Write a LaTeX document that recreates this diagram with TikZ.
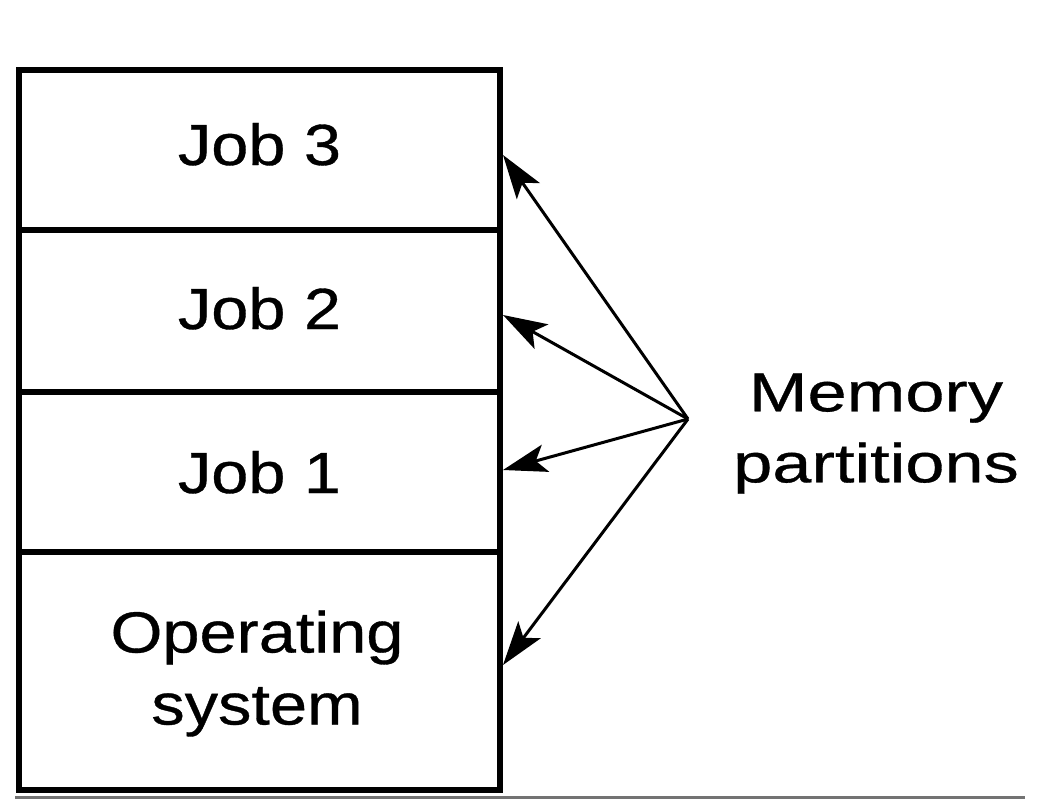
\documentclass[tikz,border=0pt]{standalone}
\usepackage{fontspec}
\setmainfont{Liberation Sans}
\newfontfamily\lblfont[FakeStretch=1.15, FakeBold=0.6]{Liberation Sans}
\newfontfamily\memfont[FakeStretch=1.28, FakeBold=0.6]{Liberation Sans}
\usetikzlibrary{arrows.meta}
\begin{document}
\begin{tikzpicture}[x=1pt,y=-1pt,
  rowbox/.style={draw=black, line width=6pt, minimum width=481pt, inner sep=0pt},
  lbl/.style={font=\lblfont\fontsize{58}{72}\selectfont, inner sep=0pt, align=center},
  memlbl/.style={font=\memfont\fontsize{55}{71}\selectfont, inner sep=0pt, align=center},
  arr/.style={line width=3pt, -{Stealth[length=44pt, width=28pt, inset=10pt]}}
]
\useasboundingbox (0,0) rectangle (1040,806);
% memory rows
\node[rowbox, minimum height=160pt] (j3) at (259.5,150) {};
\node[rowbox, minimum height=162pt] (j2) at (259.5,311) {};
\node[rowbox, minimum height=160pt] (j1) at (259.5,472) {};
\node[rowbox, minimum height=238pt] (os) at (259.5,671) {};
% labels
\node[lbl, anchor=base] (t3) at (259.5,165) {Job 3};
\node[lbl, anchor=base] (t2) at (259.5,329) {Job 2};
\node[lbl, anchor=base] (t1) at (259.5,493) {Job 1};
\node[lbl] (tos) at (257,673.5) {Operating\\system};
\node[memlbl] (mem) at (876,433.6) {Memory\\partitions};
% arrows
\coordinate (src) at (688,419);
\draw[arr] (src) -- ([yshift=-5pt]j3.east);
\draw[arr] (src) -- ([yshift=-4pt]j2.east);
\draw[arr] (src) -- ([yshift=2pt]j1.east);
\draw[arr] (src) -- ([yshift=6pt]os.east);
% bottom rule
\coordinate (ruleL) at (15,797);
\coordinate (ruleR) at (1025,797);
\draw[line width=3pt, color=black!55] (ruleL) -- (ruleR);
\end{tikzpicture}
\end{document}
